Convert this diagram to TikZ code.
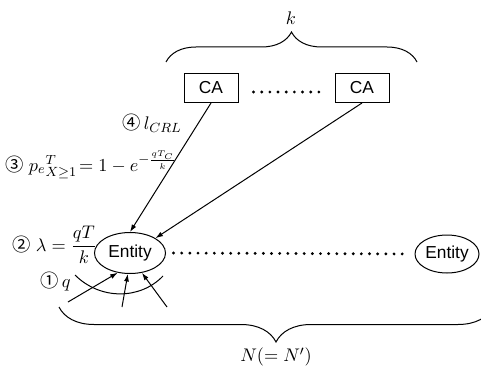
\documentclass[tikz,border=0pt]{standalone}
\usepackage{amsmath}
\usepackage{fontspec}
\setsansfont{Liberation Sans}
\newfontfamily\circfont{Noto Sans CJK JP}
\usetikzlibrary{decorations.pathreplacing,arrows.meta,shapes.geometric}

\begin{document}
\begin{tikzpicture}[x=0.6pt,y=-0.6pt,line width=0.6pt,
    font=\fontsize{11}{13}\selectfont,
    cabox/.style={draw,inner sep=0pt,minimum width=32.4pt,minimum height=17.4pt,
      font=\sffamily\fontsize{10.4}{12}\selectfont},
    entity/.style={draw,ellipse,inner sep=0pt,font=\sffamily\fontsize{10.4}{12}\selectfont},
    dotline/.style={line width=1.9pt,line cap=round,dash pattern=on 0pt off 4.9pt},
    lbl/.style={anchor=west,inner sep=0pt},
    arr/.style={-{Latex[length=4.5pt,width=3pt]}}]
  \useasboundingbox (0,0) rectangle (481,370);
  \clip (0,0) rectangle (481,370);

  \node (kval) at (291,18) {$k$};
  \draw [decorate,decoration={brace,amplitude=18pt}] (166,62) -- (417,62);

  \node [cabox] (ca1) at (211,88) {CA};
  \node [cabox] (ca2) at (362,88) {CA};
  \draw [dotline,shorten <=9pt,shorten >=6.5pt] ([yshift=-2.4pt]ca1.east) -- ([yshift=-2.4pt]ca2.west);

  \node [entity,minimum width=42.6pt,minimum height=24.6pt] (ent1) at (130,253) {Entity};
  \node [entity,minimum width=38.4pt,minimum height=22.8pt] (ent2) at (447,254) {Entity};
  \draw [dotline,shorten <=4.5pt,shorten >=6pt] (ent1.east) -- (ent2.west);

  \draw [arr] (ca1.south) -- (ent1.north);
  \draw [arr] (ca2.south) -- (ent1.north east);

  \coordinate (q1) at (68,302);
  \coordinate (q2) at (122,307);
  \coordinate (q3) at (167,307);
  \draw [arr] (q1) -- (ent1.-122);
  \draw [arr] (q2) -- (ent1.-96);
  \draw [arr] (q3) -- (ent1.-59);
  \draw (75,275) .. controls (100,300) and (140,300) .. (163,276);

  \node [lbl] (lcrl) at (122,123) {{\circfont ④}\,$l_{CRL}$};
  \node [lbl] (pex) at (5,165) {{\circfont ③}\;$p_e{}^{T}_{X\geq 1}\!= 1-e^{-\frac{qT_C}{k}}$};
  \node [lbl] (lam) at (12,245) {{\circfont ②}\;$\lambda=\dfrac{qT}{k}$};
  \node [lbl] (qlab) at (40,282) {{\circfont ①}\,$q$};

  \draw [decorate,decoration={brace,amplitude=21pt}] (493,307) -- (59,307);
  \node (nval) at (276,357) {$N(=N')$};
\end{tikzpicture}
\end{document}
